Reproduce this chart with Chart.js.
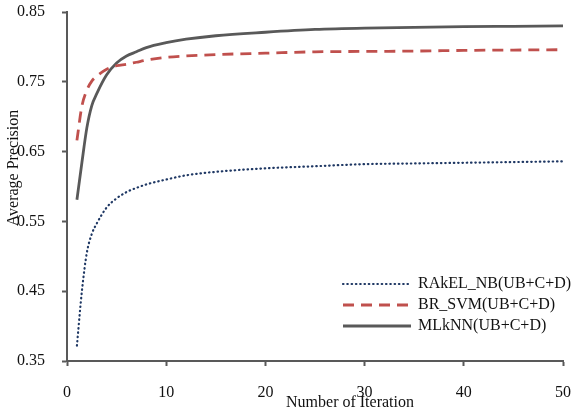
<!DOCTYPE html>
<html lang="en">
<head>
    <meta charset="UTF-8">
    <title>Average Precision vs Iteration</title>
    <script src="https://cdn.jsdelivr.net/npm/chart.js"></script>
    <style>
        body {
            margin: 0;
            background-color: #fff;
        }
        #wrap {
            width: 571px;
            height: 411px;
        }
    </style>
</head>
<body>
    <div id="wrap">
        <canvas id="apChart" width="571" height="411"></canvas>
    </div>

    <script>
        // iterations where values were read
        const iterations = [1, 1.5, 2, 2.5, 3, 4, 5, 6, 7, 8, 10, 12, 15, 20, 25, 30, 35, 40, 45, 50];

        const rakelNB = [0.372, 0.450, 0.505, 0.532, 0.547, 0.570, 0.583, 0.592, 0.598, 0.603,
                         0.610, 0.616, 0.621, 0.626, 0.629, 0.632, 0.633, 0.634, 0.635, 0.636];
        const brSVM = [0.666, 0.715, 0.738, 0.751, 0.758, 0.768, 0.773, 0.775, 0.778, 0.781,
                       0.785, 0.787, 0.789, 0.791, 0.793, 0.7935, 0.794, 0.795, 0.7955, 0.796];
        const mlkNN = [0.581, 0.634, 0.684, 0.716, 0.733, 0.760, 0.777, 0.787, 0.793, 0.799,
                       0.806, 0.811, 0.816, 0.821, 0.825, 0.827, 0.828, 0.829, 0.8295, 0.830];

        const seriesNames = ['RAkEL_NB(UB+C+D)', 'BR_SVM(UB+C+D)', 'MLkNN(UB+C+D)'];
        const yTicks = [0.35, 0.45, 0.55, 0.65, 0.75, 0.85];
        const xTitle = 'Number of Iteration';
        const yTitle = 'Average Precision';

        const serif = "'Liberation Serif', 'Times New Roman', serif";
        const axisColor = '#595959';

        function toPoints(vals) {
            return iterations.map((x, i) => ({ x: x, y: vals[i] }));
        }

        // the scales should not push the plot area in
        function noScalePadding(scale) {
            scale.paddingTop = 0;
            scale.paddingBottom = 0;
            scale.paddingLeft = 0;
            scale.paddingRight = 0;
        }

        // legend inside the plot + axis titles
        const extrasPlugin = {
            id: 'extras',
            afterDraw(chart) {
                const ctx = chart.ctx;
                const area = chart.chartArea;
                ctx.save();
                ctx.font = '16px ' + serif;
                ctx.fillStyle = '#111';
                ctx.textBaseline = 'middle';

                chart.data.datasets.forEach((ds, i) => {
                    const y = area.bottom - 77 + i * 21;
                    const x0 = area.right - 220;
                    const x1 = area.right - 152;
                    ctx.save();
                    ctx.strokeStyle = ds.borderColor;
                    ctx.lineWidth = ds.borderWidth;
                    ctx.lineCap = ds.borderCapStyle || 'butt';
                    ctx.setLineDash(ds.borderDash || []);
                    ctx.beginPath();
                    ctx.moveTo(x0, y);
                    ctx.lineTo(x1, y);
                    ctx.stroke();
                    ctx.restore();
                    ctx.textAlign = 'left';
                    ctx.fillText(ds.label, area.right - 145, y);
                });

                // x title
                ctx.textAlign = 'center';
                ctx.fillText(xTitle, area.left + 283, area.bottom + 42);

                // y title
                ctx.translate(14, area.top + 156);
                ctx.rotate(-Math.PI / 2);
                ctx.fillText(yTitle, 0, 0);
                ctx.restore();
            }
        };

        const ctx = document.getElementById('apChart').getContext('2d');
        const chart = new Chart(ctx, {
            type: 'line',
            data: {
                datasets: [
                    {
                        label: seriesNames[0],
                        data: toPoints(rakelNB),
                        borderColor: '#1F3864',
                        borderWidth: 2.2,
                        borderDash: [0.5, 3.8],
                        borderCapStyle: 'round',
                        pointRadius: 0,
                        fill: false,
                        cubicInterpolationMode: 'monotone'
                    },
                    {
                        label: seriesNames[1],
                        data: toPoints(brSVM),
                        borderColor: '#C0504D',
                        borderWidth: 2.8,
                        borderDash: [11, 7],
                        pointRadius: 0,
                        fill: false,
                        cubicInterpolationMode: 'monotone'
                    },
                    {
                        label: seriesNames[2],
                        data: toPoints(mlkNN),
                        borderColor: '#595959',
                        borderWidth: 2.8,
                        pointRadius: 0,
                        fill: false,
                        cubicInterpolationMode: 'monotone'
                    }
                ]
            },
            options: {
                responsive: false,
                animation: false,
                layout: {
                    padding: { left: 0, right: 8, top: 12, bottom: 0 }
                },
                scales: {
                    x: {
                        type: 'linear',
                        min: 0,
                        max: 50,
                        ticks: {
                            stepSize: 10,
                            padding: 17,
                            color: '#111',
                            font: { family: serif, size: 16 }
                        },
                        grid: {
                            drawOnChartArea: false,
                            tickLength: 5,
                            tickWidth: 2,
                            tickColor: axisColor
                        },
                        border: { color: axisColor, width: 2 },
                        afterFit(scale) {
                            scale.height = 50;
                            noScalePadding(scale);
                        }
                    },
                    y: {
                        min: 0.35,
                        max: 0.85,
                        afterBuildTicks(scale) {
                            scale.ticks = yTicks.map(v => ({ value: v }));
                        },
                        ticks: {
                            padding: 17,
                            color: '#111',
                            font: { family: serif, size: 16 },
                            callback: v => Number(v).toFixed(2)
                        },
                        grid: {
                            drawOnChartArea: false,
                            tickLength: 5,
                            tickWidth: 2,
                            tickColor: axisColor
                        },
                        border: { color: axisColor, width: 2 },
                        afterFit(scale) {
                            scale.width = 67;
                            noScalePadding(scale);
                        }
                    }
                },
                plugins: {
                    legend: { display: false },
                    tooltip: { enabled: false }
                }
            },
            plugins: [extrasPlugin]
        });
    </script>
</body>
</html>
